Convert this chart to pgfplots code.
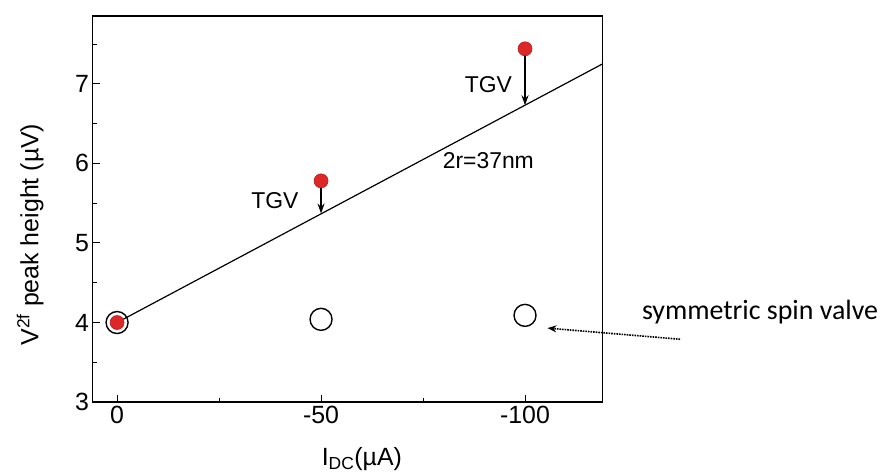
\documentclass[border=0pt]{standalone}
\usepackage{pgfplots}
\pgfplotsset{compat=1.18}
\usepackage{fontspec}
\setmainfont{Liberation Sans}
\newfontfamily\calibri{Carlito}
\usetikzlibrary{arrows.meta}
\definecolor{dotred}{RGB}{222,40,40}
\begin{document}
\begin{tikzpicture}
\begin{axis}[
  scale only axis, width=510bp, height=386bp,
  x dir=reverse, xmin=-119, xmax=6, ymin=3, ymax=7.85,
  xtick={0,-50,-100}, xticklabels={0,-50,-100},
  minor xtick={-25,-75},
  ytick={3,4,5,6,7}, yticklabels={3,4,5,6,7},
  minor ytick={3.5,4.5,5.5,6.5,7.5},
  xtick pos=left, ytick pos=left,
  tick align=inside, major tick length=7bp, minor tick length=4bp,
  axis line style={line width=1.3bp},
  every tick/.style={black, line width=1bp},
  ticklabel style={font=\fontsize{25}{29}\selectfont},
  clip=false,
  xlabel={I\textsubscript{DC}(µA)},
  ylabel={V\textsuperscript{2f} peak height (µV)},
  label style={font=\fontsize{25}{29}\selectfont},
  xlabel style={at={(axis description cs:0.528,-0.148)}, anchor=center},
  ylabel style={at={(axis description cs:-0.1225,0.434)}, anchor=center},
]
\path (axis cs:28.7,8.053) rectangle (axis cs:-190.2,2.094);
% fitted line
\addplot[black, line width=1.2bp] coordinates {(0,4.0) (-119,7.25)};
% symmetric spin valve (open circles)
\addplot[only marks, mark=o, mark size=11bp, mark options={line width=1.4bp, black, fill=white}]
  coordinates {(0,4.0) (-50,4.04) (-100,4.09)};
% TGV (red points)
\addplot[only marks, mark=*, mark size=7bp, mark options={draw=dotred!80!black, fill=dotred, line width=0.6bp}]
  coordinates {(0,4.0) (-50,5.78) (-100,7.44)};
% arrows
\draw[line width=1.4bp, -{Stealth[length=10bp,width=7bp]}] (axis cs:-50,5.70) -- (axis cs:-50,5.37);
\draw[line width=1.4bp, -{Stealth[length=10bp,width=7bp]}] (axis cs:-100,7.36) -- (axis cs:-100,6.73);
\draw[line width=1.6bp, densely dotted, -{Stealth[length=9bp,width=7bp]}] (axis cs:-138,3.79) -- (axis cs:-105.5,3.93);
% texts
\node[font=\fontsize{23}{27}\selectfont] at (axis cs:-38.7,5.53) {TGV};
\node[font=\fontsize{23}{27}\selectfont] at (axis cs:-91,6.99) {TGV};
\node[font=\fontsize{23}{27}\selectfont] at (axis cs:-91,6.04) {2r=37nm};
\node[font=\calibri\fontsize{28}{32}\selectfont] at (axis cs:-157.6,4.13) {symmetric spin valve};
\end{axis}
\end{tikzpicture}
\end{document}
